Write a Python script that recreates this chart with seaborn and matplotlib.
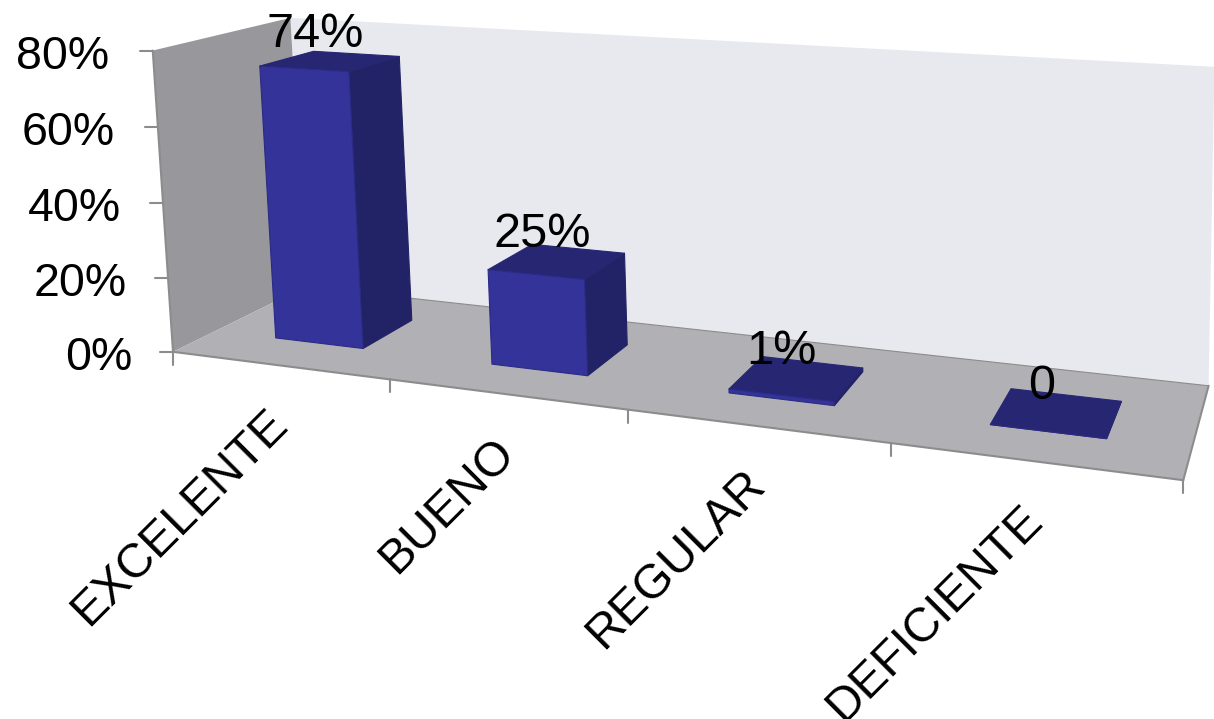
import numpy as np
from matplotlib import pyplot as plt
from matplotlib.patches import Polygon
import seaborn as sns

categories = ['EXCELENTE', 'BUENO', 'REGULAR', 'DEFICIENTE']
values = [74, 25, 1, 0]
value_labels = ['74%', '25%', '1%', '0']
y_ticks = [0, 20, 40, 60, 80]
y_tick_labels = ['0%', '20%', '40%', '60%', '80%']

# colours
front_color = '#333399'
side_color = '#222266'
top_color = '#262673'
wall_color = '#98979B'
floor_color = '#B1B0B4'
back_color = '#E8E9EF'
line_color = '#8C8C8C'

sns.set_theme(style='white')
plt.rcParams['font.family'] = ['Liberation Sans', 'DejaVu Sans']

# where the corners of the chart box sit in the picture: (slot, depth, value) -> (px, py)
frame = [
    ((0, 0, 0), (175, 350)), ((1, 0, 0), (390, 379)), ((2, 0, 0), (629, 410)),
    ((3, 0, 0), (891, 444)), ((4, 0, 0), (1183, 480)),
    ((0, 1, 0), (303, 287)), ((4, 1, 0), (1209, 386)),
    ((0, 0, 20), (168, 278)), ((0, 0, 40), (163, 204)), ((0, 0, 60), (157, 128)),
    ((0, 0, 80), (151, 50)), ((0, 1, 80), (293, 18)), ((4, 1, 80), (1214, 66)),
]

# fit a perspective camera to those points
rows, rhs = [], []
for (t, d, v), (px, py) in frame:
    rows.append([t, d, v, 1, 0, 0, 0, 0, -px * t, -px * d, -px * v])
    rows.append([0, 0, 0, 0, t, d, v, 1, -py * t, -py * d, -py * v])
    rhs += [px, py]
cam = np.linalg.lstsq(np.array(rows, float), np.array(rhs, float), rcond=None)[0]
cam = np.append(cam, 1).reshape(3, 4)


def project(t, d, v):
    p = cam @ np.array([t, d, v, 1.0])
    return p[0] / p[2], p[1] / p[2]


# barplot gives the bar rectangles in data units, they get projected afterwards
tmp_fig, tmp_ax = plt.subplots()
sns.barplot(x=categories, y=values, width=0.415, color=front_color, ax=tmp_ax)
bars = [(p.get_x() + p.get_width() / 2 + 0.5, p.get_width(), p.get_height()) for p in tmp_ax.patches]
plt.close(tmp_fig)

fig = plt.figure(figsize=(12.14, 7.19), dpi=100)
ax = fig.add_axes([0, 0, 1, 1])
ax.set_xlim(0, 1214)
ax.set_ylim(719, 0)
ax.axis('off')


def face(points, color, edge=None, z=1):
    ax.add_patch(Polygon([project(*q) for q in points], closed=True, facecolor=color,
                         edgecolor=edge or color, linewidth=0.8, joinstyle='round', zorder=z))


n = len(categories)
top = y_ticks[-1]
face([(0, 1, 0), (n, 1, 0), (n, 1, top), (0, 1, top)], back_color, 'none')
face([(0, 0, 0), (0, 1, 0), (0, 1, top), (0, 0, top)], wall_color, 'none')
face([(0, 0, 0), (n, 0, 0), (n, 1, 0), (0, 1, 0)], floor_color, 'none')

# box edges
for a, b, lw in [((0, 0, 0), (0, 0, top), 1.5), ((0, 0, 0), (n, 0, 0), 1.5), ((n, 0, 0), (n, 1, 0), 1.5),
                 ((0, 1, 0), (n, 1, 0), 0.8)]:
    pa, pb = project(*a), project(*b)
    ax.plot([pa[0], pb[0]], [pa[1], pb[1]], color=line_color, lw=lw, zorder=1.5)

# axis ticks and labels
for tick, label in zip(y_ticks, y_tick_labels):
    px, py = project(0, 0, tick)
    ax.plot([px - 13, px], [py, py], color=line_color, lw=1.5, zorder=1.5)
    ax.text(px - 44 + 3 * (1 - tick / top), py + 6, label, fontsize=33.5, color='black', ha='right', va='center')

for i in range(n + 1):
    px, py = project(i, 0, 0)
    ax.plot([px, px], [py, py + 13], color=line_color, lw=1.5, zorder=1.5)

for i, name in enumerate(categories):
    px, py = project(i + 0.5, 0, 0)
    ax.text(px - 14, py + 36, name, fontsize=34.5, color='black', rotation=45,
            rotation_mode='anchor', ha='right', va='top')

# bars
d0, d1 = 0.3, 0.71
for (t, w, v), label in zip(bars, value_labels):
    l, r = t - w / 2, t + w / 2
    face([(r, d0, 0), (r, d1, 0), (r, d1, v), (r, d0, v)], side_color, z=3)
    face([(l, d0, v), (r, d0, v), (r, d1, v), (l, d1, v)], top_color, z=3)
    face([(l, d0, 0), (r, d0, 0), (r, d0, v), (l, d0, v)], front_color, '#2B2B85', z=3)
    px, py = project(t, 0.5, v)
    ax.text(px - 15, py - 27, label, fontsize=35, color='black', ha='center', va='center', zorder=5)

fig.savefig('out.png', dpi=100)
